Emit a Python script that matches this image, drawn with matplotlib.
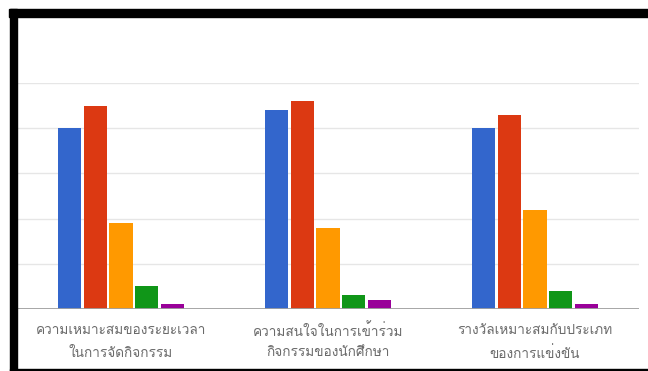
import matplotlib
matplotlib.use('Agg')
import matplotlib.pyplot as plt
from matplotlib import font_manager
from matplotlib.ft2font import FT2Font
from matplotlib.patches import Rectangle

categories = [
    ('ความเหมาะสมของระยะเวลา', 'ในการจัดกิจกรรม'),
    ('ความสนใจในการเข้าร่วม', 'กิจกรรมของนักศึกษา'),
    ('รางวัลเหมาะสมกับประเภท', 'ของการแข่งขัน'),
]
level5 = [40, 44, 40]
level4 = [45, 46, 43]
level3 = [19, 18, 22]
level2 = [5, 3, 4]
level1 = [1, 2, 1]
series = [level5, level4, level3, level2, level1]
colors = ['#3366cc', '#dc3912', '#ff9900', '#109618', '#990099']


def thai_font():
    # first installed family that has Thai glyphs
    for f in font_manager.fontManager.ttflist:
        try:
            if 0x0E01 in FT2Font(f.fname).get_charmap():
                return f.name
        except Exception:
            pass
    return 'DejaVu Sans'


font = thai_font()
plt.rcParams['font.family'] = [font, 'DejaVu Sans']

W, H = 648, 371
fig = plt.figure(figsize=(W / 100, H / 100), dpi=100)
ax = fig.add_axes([17.5 / W, (H - 309) / H, 621 / W, 226 / H])

pitch = 0.124
x = range(len(categories))
for i, (vals, c) in enumerate(zip(series, colors)):
    ax.bar([xi + (i - 2) * pitch for xi in x], vals, width=0.114, color=c, zorder=3)

ax.set_xlim(-0.5, len(categories) - 0.5)
ax.set_ylim(0, 50)
ax.set_yticks(range(0, 51, 10))
ax.grid(axis='y', color='#e6e6e6', lw=1, zorder=0)
ax.axhline(0, color='#a0a0a0', lw=1.3, zorder=4)
ax.set_xticks([])
ax.tick_params(left=False, labelleft=False)
for s in ax.spines.values():
    s.set_visible(False)

for xi, (l1, l2) in zip(x, categories):
    for line, off in ((l1, -16), (l2, -32)):
        ax.annotate(line, xy=(xi, 0), xycoords=('data', 'axes fraction'),
                    xytext=(0, off), textcoords='offset points',
                    ha='center', va='center', fontsize=9.8, color='#6a6a6a')

# black frame around the chart
frame = [(9, 9, W - 9, 8), (10, 9, 7, H - 9), (10, 369, W - 10, 2)]
for px, py, pw, ph in frame:
    fig.patches.append(Rectangle((px / W, 1 - (py + ph) / H), pw / W, ph / H,
                                 transform=fig.transFigure, color='black'))

fig.savefig('out.png', dpi=100)
